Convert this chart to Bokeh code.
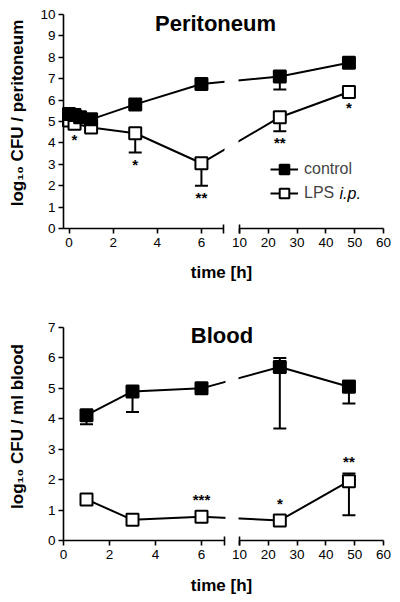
from bokeh.plotting import figure
from bokeh.models import (Range1d, LinearAxis, FixedTicker, CustomJSTransform, BoxAnnotation,
                          Label, Legend, LegendItem, ColumnDataSource)
from bokeh.transform import transform
from bokeh.layouts import column
from bokeh.embed import file_html
from bokeh.resources import INLINE
from bokeh.core.properties import value

FONT = "Liberation Sans"

# ---------------- data: Peritoneum ----------------
per_t_ctrl = [0, 0.25, 0.5, 1, 3, 6, 24, 48]
per_ctrl = [5.35, 5.3, 5.2, 5.1, 5.8, 6.75, 7.1, 7.75]
per_ctrl_lo = [0, 0, 0, 0, 0, 0, 0.6, 0]
per_ctrl_hi = [0, 0, 0, 0, 0, 0, 0, 0]
per_t_lps = [0, 0.25, 1, 3, 6, 24, 48]
per_lps = [5.05, 4.9, 4.72, 4.45, 3.05, 5.2, 6.38]
per_lps_lo = [0, 0, 0, 0.9, 1.05, 0.65, 0]
per_lps_hi = [0, 0, 0, 0, 0, 0, 0]
per_lps_sig = ["", "*", "", "*", "**", "**", "*"]

# ---------------- data: Blood ----------------
bl_t = [1, 3, 6, 24, 48]
bl_ctrl = [4.12, 4.9, 5.0, 5.7, 5.05]
bl_ctrl_lo = [0.3, 0.68, 0, 2.02, 0.55]
bl_ctrl_hi = [0, 0, 0, 0.3, 0.2]
bl_lps = [1.35, 0.68, 0.78, 0.66, 1.95]
bl_lps_lo = [0, 0, 0, 0, 1.12]
bl_lps_hi = [0, 0, 0, 0, 0.25]
bl_lps_sig = ["", "", "***", "*", "**"]

left_ticks = [0, 2, 4, 6]
right_ticks = [10, 20, 30, 40, 50, 60]
per_yticks = list(range(0, 11))
bl_yticks = list(range(0, 8))

W, H = 400, 300          # canvas of each panel (frame fills the canvas)
AX_X = 63                # screen x of the y axis
RIGHT_PX = 144           # screen length of the 10..60 h segment
BRK, R0, R1 = 7.0, 10.0, 60.0

V_FUNC = """
const out = new Float64Array(xs.length)
for (let i = 0; i < xs.length; i++) {
  const t = xs[i]
  out[i] = t <= brk ? t : brk + (gap + (t - r0) * kr) / kl
}
return out
"""
S_FUNC = "return x <= brk ? x : brk + (gap + (x - r0) * kr) / kl"


def style_axis(ax):
    ax.axis_line_width = 1.6
    ax.axis_line_color = "black"
    ax.major_tick_line_width = 1.6
    ax.major_tick_line_color = "black"
    ax.major_tick_out = 5
    ax.major_tick_in = 0
    ax.minor_tick_line_width = 1.6
    ax.minor_tick_line_color = "black"
    ax.minor_tick_out = 5
    ax.minor_tick_in = 4
    ax.major_label_text_font = FONT
    ax.major_label_text_font_size = "13.5px"
    ax.major_label_text_color = "black"
    ax.major_label_standoff = 4


def build(title, ylabel, ymax, yticks, x0, left_px, gap_px, ytop, ybot,
          series, sig, sig_below, title_pos, ylab_pos, xlab_pos, legend_loc=None):
    kl = left_px / (BRK - x0)
    kr = RIGHT_PX / (R1 - R0)
    ky = (ybot - ytop) / ymax

    def px2x(px):
        return x0 + (px - AX_X) / kl

    def px2y(py):
        return ymax - (py - ytop) / ky

    p = figure(width=W, height=H, output_backend="svg", toolbar_location=None,
               x_range=Range1d(px2x(0), px2x(W)), y_range=Range1d(px2y(H), px2y(0)),
               x_axis_location=None, y_axis_location=None,
               min_border_left=0, min_border_right=0, min_border_top=0, min_border_bottom=0,
               title=None)
    r_start = R0 - (AX_X + left_px + gap_px) / kr
    p.extra_x_ranges = {"right": Range1d(r_start, r_start + W / kr)}
    p.outline_line_color = None
    p.xgrid.visible = False
    p.ygrid.visible = False
    p.background_fill_color = "white"
    p.border_fill_color = "white"

    # y axis
    ya = LinearAxis(ticker=FixedTicker(ticks=yticks), bounds=(0, ymax), fixed_location=x0)
    style_axis(ya)
    ya.minor_tick_out = 0
    ya.minor_tick_in = 0
    ya.major_label_standoff = 3
    p.add_layout(ya, "left")

    # broken x axis: left and right segments
    axl = LinearAxis(ticker=FixedTicker(ticks=left_ticks, minor_ticks=[BRK]),
                     bounds=(x0, BRK), fixed_location=0)
    style_axis(axl)
    axr = LinearAxis(x_range_name="right", ticker=FixedTicker(ticks=right_ticks, minor_ticks=[R0]),
                     bounds=(R0, R1), fixed_location=0)
    style_axis(axr)
    p.add_layout(axl, "below")
    p.add_layout(axr, "below")

    tr = CustomJSTransform(args=dict(brk=BRK, r0=R0, kl=kl, kr=kr, gap=float(gap_px)),
                           func=S_FUNC, v_func=V_FUNC)
    X = transform("t", tr)

    rends = []
    for t, y, lo, hi, fill in series:
        src = ColumnDataSource(dict(t=t, y=y,
                                    ylo=[a - b for a, b in zip(y, lo)],
                                    yhi=[a + b for a, b in zip(y, hi)]))
        p.segment(x0=X, y0="ylo", x1=X, y1="yhi", source=src, line_color="black", line_width=2)
        ct = [ti for ti, e in zip(t, lo) if e > 0] + [ti for ti, e in zip(t, hi) if e > 0]
        cy = [yi - e for yi, e in zip(y, lo) if e > 0] + [yi + e for yi, e in zip(y, hi) if e > 0]
        if ct:
            p.scatter(x=X, y="y", source=ColumnDataSource(dict(t=ct, y=cy)), marker="dash",
                      size=13, line_color="black", line_width=2)
        lr = p.line(x=X, y="y", source=src, line_color="black", line_width=2)
        mr = p.scatter(x=X, y="y", source=src, marker="square", size=12,
                       fill_color=fill, line_color="black", line_width=2)
        rends.append((lr, mr))

    # significance marks
    st, sy, sl, so = [], [], [], []
    t, y, lo, hi, labels = sig
    for ti, yi, l, h, lab in zip(t, y, lo, hi, labels):
        if not lab:
            continue
        st.append(ti)
        sl.append(lab)
        if sig_below:
            sy.append(yi - l)
            so.append(11.5 if l > 0 else 16)
        else:
            sy.append(yi + h)
            so.append(-12 if h > 0 else -17)
    p.text(x=X, y="y", text="s", y_offset="o",
           source=ColumnDataSource(dict(t=st, y=sy, s=sl, o=so)),
           text_font=value(FONT), text_font_size="15px", text_font_style="bold",
           text_align="center", text_baseline="middle", text_color="black")

    # white mask over the axis break (plot area only)
    p.add_layout(BoxAnnotation(left=BRK + 1 / kl, right=BRK + (gap_px - 1) / kl,
                               bottom=6 / ky, top=ymax, fill_color="white",
                               fill_alpha=1.0, line_alpha=0.0, level="annotation"))

    p.add_layout(Label(x=px2x(title_pos[0]), y=px2y(title_pos[1]), text=title,
                       text_align="center", text_baseline="middle", text_font=FONT,
                       text_font_size="22px", text_font_style="bold", text_color="black"))
    p.add_layout(Label(x=px2x(xlab_pos[0]), y=px2y(xlab_pos[1]), text="time [h]",
                       text_align="center", text_baseline="middle", text_font=FONT,
                       text_font_size="17px", text_font_style="bold", text_color="black"))
    p.add_layout(Label(x=px2x(ylab_pos[0]), y=px2y(ylab_pos[1]), text=ylabel,
                       angle=90, angle_units="deg",
                       text_align="center", text_baseline="middle", text_font=FONT,
                       text_font_size="17px", text_font_style="bold", text_color="black"))

    if legend_loc is not None:
        (lc, mc), (ll, ml) = rends[1], rends[0]
        gw, gh, sp, std = 28, 24, -6, 6
        leg = Legend(items=[LegendItem(label="control", renderers=[lc, mc]),
                            LegendItem(label="LPS", renderers=[ll, ml])],
                     location=legend_loc, glyph_width=gw, glyph_height=gh, spacing=sp,
                     padding=0, margin=0, label_standoff=std,
                     label_text_font=FONT, label_text_font_size="16px",
                     border_line_alpha=0, background_fill_alpha=0)
        p.add_layout(leg)
        # italic "i.p." after "LPS" in the second legend row
        row2_center = H - legend_loc[1] - gh / 2
        p.add_layout(Label(x=px2x(legend_loc[0] + gw + std + 35), y=px2y(row2_center),
                           text="i.p.", text_align="left", text_baseline="middle",
                           text_font=FONT, text_font_size="16px", text_font_style="italic",
                           text_color="black"))
    return p


p_top = build("Peritoneum", "log\u2081\u2080 CFU / peritoneum", 10, per_yticks,
              x0=-0.25, left_px=160, gap_px=16, ytop=14, ybot=228,
              series=[(per_t_lps, per_lps, per_lps_lo, per_lps_hi, "white"),
                      (per_t_ctrl, per_ctrl, per_ctrl_lo, per_ctrl_hi, "black")],
              sig=(per_t_lps, per_lps, per_lps_lo, per_lps_hi, per_lps_sig), sig_below=True,
              title_pos=(215, 23), ylab_pos=(17, 112.5), xlab_pos=(221, 272),
              legend_loc=(270, 95))

p_bot = build("Blood", "log\u2081\u2080 CFU / ml blood", 7, bl_yticks,
              x0=0.0, left_px=161, gap_px=15, ytop=27, ybot=240,
              series=[(bl_t, bl_lps, bl_lps_lo, bl_lps_hi, "white"),
                      (bl_t, bl_ctrl, bl_ctrl_lo, bl_ctrl_hi, "black")],
              sig=(bl_t, bl_lps, bl_lps_lo, bl_lps_hi, bl_lps_sig), sig_below=False,
              title_pos=(221.5, 35), ylab_pos=(17, 126), xlab_pos=(221, 285))

layout = column(p_top, p_bot, spacing=0)
open("out.html", "w").write(file_html(layout, INLINE))
